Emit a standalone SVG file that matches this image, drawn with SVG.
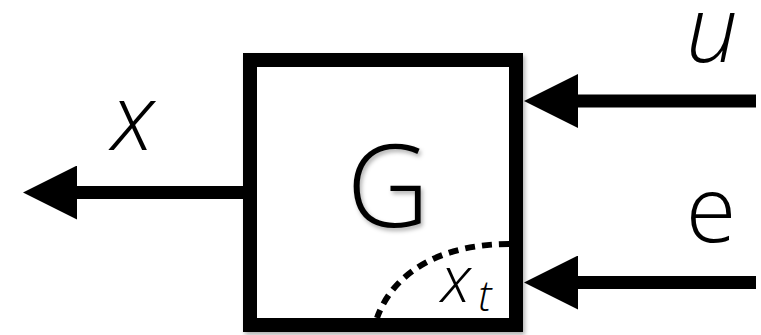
<svg xmlns="http://www.w3.org/2000/svg" width="761" height="335" viewBox="0 0 761 335">
  <style>
    .lbl { font-family: "Open Sans", "Lato", "DejaVu Sans", sans-serif; font-weight: 300; fill: #000; }
    .it { font-style: italic; }
    .wire { stroke: #000; stroke-width: 13; fill: none; }
    .block { fill: #fff; stroke: #000; stroke-width: 14; }
  </style>
  <defs>
    <marker id="head" viewBox="0 0 54 54" markerWidth="54" markerHeight="54" markerUnits="userSpaceOnUse" refX="0" refY="27" orient="auto">
      <path d="M0,0 L54,27 L0,54 Z" fill="#000"/>
    </marker>
    <filter id="soft" x="-10%" y="-10%" width="130%" height="130%">
      <feDropShadow dx="2" dy="3" stdDeviation="2" flood-color="#000" flood-opacity="0.3"/>
    </filter>
  </defs>

  <g id="connectors">
    <line class="wire" x1="250" y1="192.5" x2="77" y2="192.5" marker-end="url(#head)"/>
    <line class="wire" x1="756" y1="101" x2="578" y2="101" marker-end="url(#head)"/>
    <line class="wire" x1="756" y1="282.5" x2="578" y2="282.5" marker-end="url(#head)"/>
  </g>

  <g id="block-G">
    <rect class="block" x="250" y="60" width="266" height="265" filter="url(#soft)"/>
    <text class="lbl" x="388" y="227" font-size="115" text-anchor="middle" filter="url(#soft)">G</text>
    <!-- internal state region -->
    <path d="M509,244 C447,244 395,268 377,318" fill="none" stroke="#000" stroke-width="6" stroke-dasharray="10,7"/>
    <text class="lbl it" x="456" y="302" font-size="64" text-anchor="middle">x</text>
    <text class="lbl it" x="485" y="311" font-size="42" text-anchor="middle">t</text>
  </g>

  <g id="label-x">
    <text class="lbl it" x="133" y="150" font-size="92" text-anchor="middle">x</text>
  </g>
  <g id="label-u">
    <text class="lbl it" x="712" y="62" font-size="92" text-anchor="middle">u</text>
  </g>
  <g id="label-e">
    <text class="lbl" x="711" y="242" font-size="92" text-anchor="middle">e</text>
  </g>
</svg>
